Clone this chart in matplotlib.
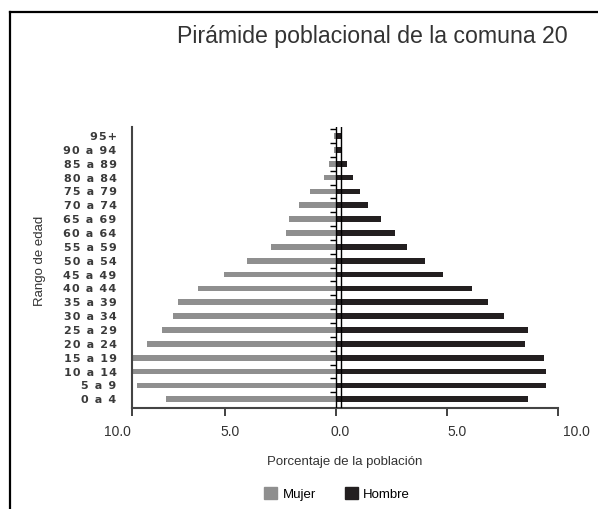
import matplotlib
matplotlib.use("Agg")
import matplotlib.pyplot as plt
from matplotlib.lines import Line2D
from matplotlib.patches import Patch
import matplotlib.transforms as mtransforms
import numpy as np

plt.rcParams['font.family'] = ['Liberation Sans', 'DejaVu Sans']

age_groups = ["0 a 4", "5 a 9", "10 a 14", "15 a 19", "20 a 24", "25 a 29", "30 a 34",
              "35 a 39", "40 a 44", "45 a 49", "50 a 54", "55 a 59", "60 a 64", "65 a 69",
              "70 a 74", "75 a 79", "80 a 84", "85 a 89", "90 a 94", "95+"]
mujer = [7.66, 8.93, 9.3, 9.3, 8.5, 7.81, 7.33, 7.11, 6.2, 5.03,
         3.99, 2.93, 2.23, 2.1, 1.68, 1.19, 0.55, 0.3, 0.1, 0.1]
hombre = [8.65, 9.42, 9.42, 9.34, 8.48, 8.65, 7.53, 6.84, 6.13, 4.81,
          4.0, 3.2, 2.65, 2.02, 1.46, 1.1, 0.77, 0.48, 0.25, 0.25]
xtick_labels = ["10.0", "5.0", "0.0", "5.0", "10.0"]

GRAY = "#8f8f8f"
DARK = "#231f20"
TXT = "#333333"

fig = plt.figure(figsize=(5.98, 5.09), dpi=100)
W, H = 598, 509
ax = fig.add_axes([132 / W, 1 - 408 / H, (558.5 - 132) / W, (408 - 127) / H])

y = np.arange(len(age_groups))
ax.barh(y, [-v for v in mujer], height=0.42, color=GRAY, zorder=2)
ax.barh(y, hombre, height=0.42, color=DARK, zorder=2)

ax.set_xlim(-9.17, 10)
ax.set_ylim(-0.63, 19.65)

# center lines and ticks
ax.axvline(0, color="black", lw=1.0, zorder=3)
ax.axvline(0.22, color="black", lw=1.0, zorder=3)
ax.hlines(y + 0.5, -0.28, 0, color="black", lw=1.0, zorder=3)

# letter-spaced category labels
def spaced(s):
    return "\u200a".join(s)

ax.set_yticks(y)
ax.set_yticklabels([spaced(a) for a in age_groups], fontsize=8, fontweight="bold",
                   color="#3a3a3a", family=["DejaVu Sans"])
ax.tick_params(axis="y", length=0, pad=11)

xt = [-9.17, -5, 0, 5, 10]
ax.set_xticks(xt)
ax.set_xticklabels([""] * 5)
ax.tick_params(axis="x", length=6, width=1.3, direction="out", color="#333333")
label_shift = [-0.67, 0.24, 0.18, 0.44, 0.79]
off = mtransforms.ScaledTranslation(0, -12 / 72, fig.dpi_scale_trans)
for xv, lab, s in zip(xt, xtick_labels, label_shift):
    ax.text(xv + s, -0.63, lab, transform=ax.transData + off, ha="center", va="top",
            fontsize=10, color=TXT)

for s in ["top", "right"]:
    ax.spines[s].set_visible(False)
ax.spines["left"].set_color("#444444")
ax.spines["left"].set_linewidth(1.5)
ax.spines["bottom"].set_color("#444444")
ax.spines["bottom"].set_linewidth(1.5)

fig.text(345 / W, 1 - 462 / H, "Porcentaje de la población", ha="center", va="center",
         fontsize=9.5, color=TXT)
fig.text(40 / W, 1 - 261 / H, "Rango de edad", ha="center", va="center", rotation=90,
         fontsize=9.5, color=TXT)
fig.text(372 / W, 1 - 37 / H, "Pirámide poblacional de la comuna 20", ha="center", va="center",
         fontsize=16.7, color=TXT)

handles = [Patch(color=GRAY, label="Mujer"), Patch(color=DARK, label="Hombre")]
fig.legend(handles=handles, loc="center", bbox_to_anchor=(337 / W, 1 - 494 / H), ncol=2,
           frameon=False, fontsize=9.5, handlelength=1.0, handleheight=1.0,
           columnspacing=2.2, handletextpad=0.4)

# outer border
fig.add_artist(Line2D([10 / W, 10 / W], [0, 1 - 12 / H], color="black", lw=1.6,
                      transform=fig.transFigure))
fig.add_artist(Line2D([10 / W, 1], [1 - 12 / H, 1 - 12 / H], color="black", lw=1.6,
                      transform=fig.transFigure))

fig.savefig("out.png", dpi=100)
